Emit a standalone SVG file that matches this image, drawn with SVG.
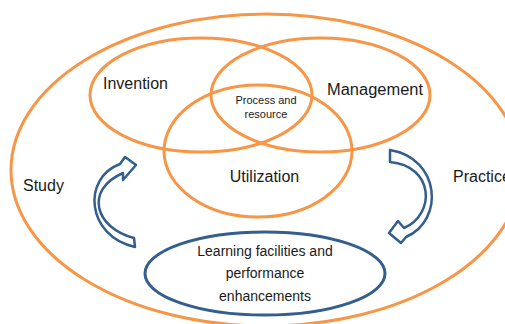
<svg xmlns="http://www.w3.org/2000/svg" width="505" height="324" viewBox="0 0 505 324">
  <style>
    .ring { fill: none; stroke: #F79646; stroke-width: 3; }
    .blue { fill: none; stroke: #345E8E; stroke-width: 3; }
    .arrow { fill: #FFFFFF; stroke: #345E8E; stroke-width: 2.5; stroke-linejoin: round; }
    text { font-family: "Liberation Sans", Arial, sans-serif; fill: #1A1A1A; }
    .big { font-size: 16px; }
    .mid { font-size: 14px; text-anchor: middle; }
    .small { font-size: 11px; text-anchor: middle; }
  </style>
  <rect width="505" height="324" fill="#FFFFFF"/>

  <g id="outer">
    <ellipse class="ring" cx="266" cy="170" rx="255" ry="156"/>
    <text class="big" x="23" y="191">Study</text>
    <text class="big" x="453" y="182">Practice</text>
  </g>

  <g id="invention">
    <ellipse class="ring" cx="201" cy="95" rx="111" ry="57"/>
    <text class="big" x="103" y="89">Invention</text>
  </g>

  <g id="management">
    <ellipse class="ring" cx="320.5" cy="95" rx="109.5" ry="57"/>
    <text class="big" x="327" y="95" textLength="96" lengthAdjust="spacingAndGlyphs">Management</text>
  </g>

  <g id="utilization">
    <ellipse class="ring" cx="258" cy="151" rx="94" ry="66"/>
    <text class="big" x="264.5" y="182" text-anchor="middle">Utilization</text>
  </g>

  <g id="process">
    <text class="small" x="266" y="104">Process and</text>
    <text class="small" x="266" y="118">resource</text>
  </g>

  <g id="learning">
    <ellipse class="blue" cx="265" cy="273.5" rx="120" ry="41.5"/>
    <text class="mid" x="265" y="256">Learning facilities and</text>
    <text class="mid" x="265" y="278">performance</text>
    <text class="mid" x="265" y="301">enhancements</text>
  </g>

  <g id="connectors">
    <!-- left curved arrow, bottom to top-right -->
    <path class="arrow" d="M134,238 C95,228 84,190 123,173 L123,180 L136,165 L125,157 L120,164 C82,178 86,236 135,247 Z"/>
    <!-- right curved arrow, top to bottom-left -->
    <path class="arrow" d="M390,150 C440,158 445,220 406,237 L401,243 L389,233 L398,221 L404,228 C436,214 434,166 390,162 Z"/>
  </g>
</svg>
